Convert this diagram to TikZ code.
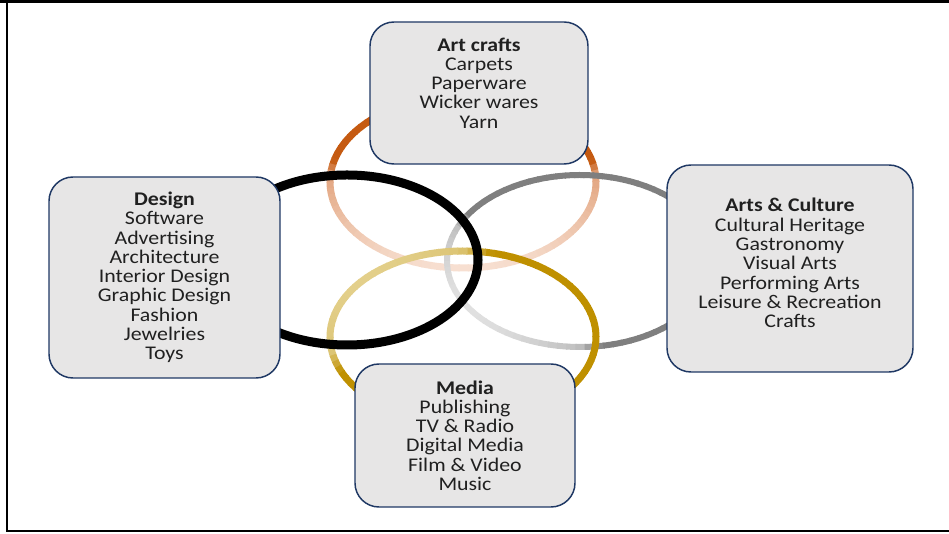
\documentclass[tikz,border=0pt]{standalone}
\usepackage{fontspec}
\setmainfont{Carlito}[FakeStretch=1.13]
\definecolor{ink}{HTML}{202020}
\definecolor{frame}{HTML}{1F3864}
\definecolor{wash}{HTML}{E7E6E6}
\definecolor{craftdark}{HTML}{C55A11}
\definecolor{craftmid}{HTML}{E2A47E}
\definecolor{craftlight}{HTML}{F7DFD1}
\definecolor{culturedark}{HTML}{7F7F7F}
\definecolor{culturemid}{HTML}{BFBFBF}
\definecolor{culturelight}{HTML}{E0E0E0}
\definecolor{mediadark}{HTML}{BF9000}
\definecolor{mediamid}{HTML}{DCC575}
\definecolor{medialight}{HTML}{E3CF8A}
\tikzset{
  font=\fontsize{14.5}{14.45}\selectfont,
  %
  box/.style={
    draw=frame, line width=1.1pt, fill=wash, rounded corners=18pt,
    inner sep=4pt, align=center, text=ink,
  },
  border/.style={draw=black, line width=1.5pt},
}

\begin{document}
\begin{tikzpicture}[x=0.75pt, y=0.75pt]

\def\rx{133}
\def\ry{86}

\useasboundingbox (0,0) rectangle (949,534);

% outer frame (open on the right)
\draw[border, line width=2.25pt] (0,532.5) -- (949,532.5);
\draw[border] (7,533) -- (7,3) -- (949,3);

% =========================================================================
% shaded rings: colour follows the projection on direction \ang
\foreach \cx/\cy/\lw/\ang/\sa/\sb/\lightc/\midc/\darkc in {
    463/352/5.25/90/0.08/0.25/craftlight/craftmid/craftdark,
    580/273/4.5/45/-0.55/-0.40/culturelight/culturemid/culturedark,
    463/197/5.25/-51.8/-0.65/-0.45/medialight/mediamid/mediadark}
{
  \pgfmathsetmacro\nrm{sqrt((\rx*cos(\ang))^2+(\ry*sin(\ang))^2)}
  \foreach \ta in {0,4,...,356}{
    \pgfmathsetmacro\sv{(\rx*cos(\ta+2)*cos(\ang)+\ry*sin(\ta+2)*sin(\ang))/\nrm}
    \pgfmathsetmacro\mixlo{100*min(1,max(0,(\sv+1)/(\sa+1)))}
    \pgfmathsetmacro\mixhi{100*min(1,max(0,(\sv-\sa)/(\sb-\sa)))}
    \colorlet{segtmp}{\midc!\mixlo!\lightc}
    \draw[line width=\lw pt, draw={\darkc!\mixhi!segtmp}]
      (\cx,\cy) ++({\rx*cos(\ta)},{\ry*sin(\ta)})
      arc[start angle=\ta, end angle=\ta+4.6, x radius=\rx, y radius=\ry];
  }
}

% design ring is plain black
\draw[line width=6.75pt] (347,274) ellipse[x radius=131, y radius=85];

% =========================================================================
\node[box, minimum width=163.5pt, minimum height=106.5pt, text depth=15pt]
  (artcrafts) at (479,441)
  {\textbf{Art crafts}\\Carpets\\Paperware\\Wicker wares\\Yarn};

\node[box, minimum width=173.25pt, minimum height=150.75pt]
  (design) at (164.5,256.5)
  {\textbf{Design}\\Software\\Advertising\\Architecture\\Interior Design\\
   Graphic Design\\Fashion\\Jewelries\\Toys};

\node[box, minimum width=184.5pt, minimum height=155.25pt, text depth=8.3pt]
  (culture) at (790,265.5)
  {\textbf{Arts \& Culture}\\Cultural Heritage\\Gastronomy\\Visual Arts\\
   Performing Arts\\Leisure \& Recreation\\Crafts};

\node[box, minimum width=165pt, minimum height=107.25pt]
  (media) at (465,98.5)
  {\textbf{Media}\\Publishing\\TV \& Radio\\Digital Media\\Film \& Video\\Music};

\end{tikzpicture}
\end{document}
